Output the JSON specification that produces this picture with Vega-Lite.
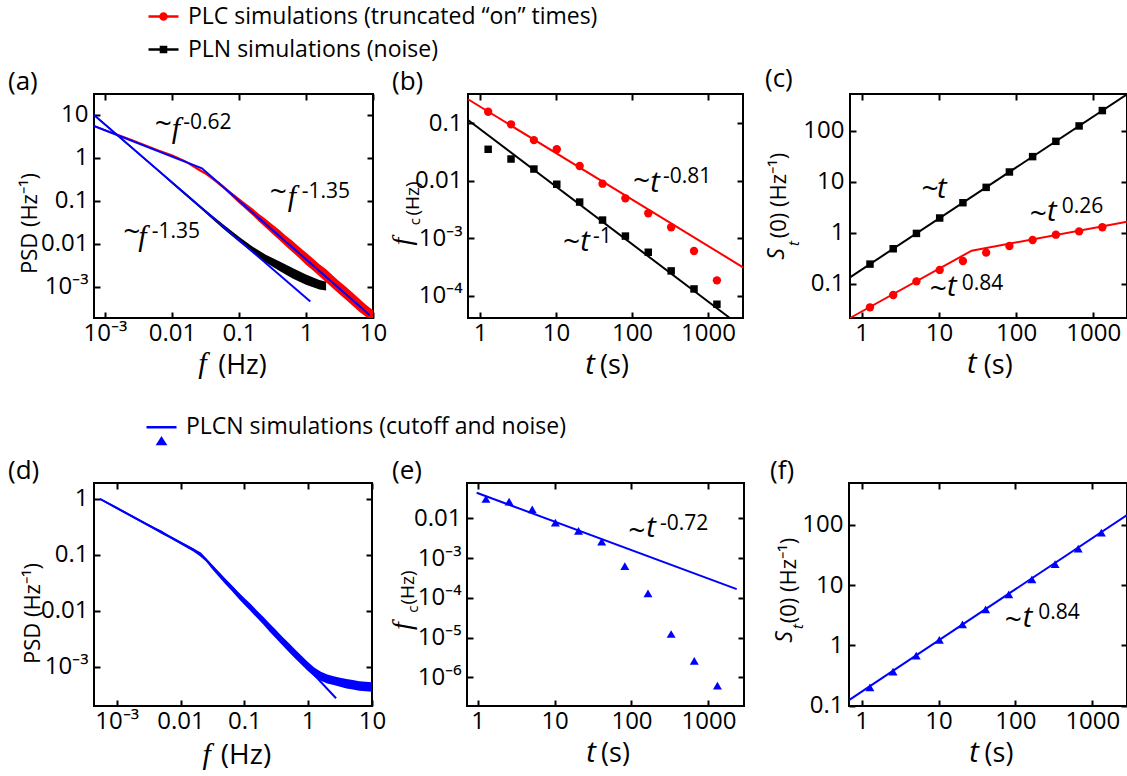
{
"$schema": "https://vega.github.io/schema/vega-lite/v6.json",
"autosize": {"type": "none"},
"padding": {"left": 94, "top": 94, "right": 1033, "bottom": 682},
"background": "white",
"config": {
 "view": {"stroke": "black", "strokeWidth": 2},
 "font": "Open Sans",
 "axis": {"grid": false, "domain": false, "ticks": true, "tickColor": "black", "tickWidth": 2, "tickSize": -6, "labelFont": "Open Sans", "labelFontSize": 24, "labelColor": "black", "labelPadding": 12, "labelOverlap": false, "labelFlush": false, "titleFont": "Open Sans", "titleFontWeight": "normal", "titleColor": "black", "titleAlign": "center", "titleBaseline": "middle"},
 "axisX": {"labelPadding": 9},
 "title": {"font": "Open Sans", "fontSize": 26, "fontWeight": "normal", "anchor": "start", "frame": "group", "color": "black", "offset": -2}
},
"datasets": {
 "leg_top": [{"series": "PLC simulations (truncated “on” times)"}, {"series": "PLN simulations (noise)"}],
 "leg_bot": [{"series": "PLCN simulations (cutoff and noise)"}],
 "a_plc": [
  {"f":0.0006855,"lo":5.31,"hi":5.82},{"f":0.001,"lo":4.27,"hi":4.68},{"f":0.001585,"lo":3.27,"hi":3.59},{"f":0.002512,"lo":2.51,"hi":2.75},{"f":0.003981,"lo":1.905,"hi":2.089},{"f":0.00631,"lo":1.445,"hi":1.585},{"f":0.01,"lo":1.084,"hi":1.216},{"f":0.01585,"lo":0.785,"hi":0.881},{"f":0.02512,"lo":0.501,"hi":0.575},{"f":0.03162,"lo":0.407,"hi":0.468},{"f":0.03981,"lo":0.3126,"hi":0.367},{"f":0.05012,"lo":0.2344,"hi":0.2818},{"f":0.0631,"lo":0.1738,"hi":0.2089},{"f":0.07943,"lo":0.123,"hi":0.1549},{"f":0.1,"lo":0.0891,"hi":0.1175},{"f":0.1259,"lo":0.0646,"hi":0.0891},{"f":0.1585,"lo":0.0468,"hi":0.0676},{"f":0.1995,"lo":0.0331,"hi":0.0501},{"f":0.2512,"lo":0.024,"hi":0.038},{"f":0.3162,"lo":0.017,"hi":0.0282},{"f":0.3981,"lo":0.0123,"hi":0.0214},{"f":0.5012,"lo":0.00891,"hi":0.01549},{"f":0.631,"lo":0.00646,"hi":0.01175},{"f":0.7943,"lo":0.00468,"hi":0.00851},{"f":1,"lo":0.00331,"hi":0.00631},{"f":1.259,"lo":0.00245,"hi":0.00468},{"f":1.585,"lo":0.00178,"hi":0.00339},{"f":1.995,"lo":0.00129,"hi":0.00257},{"f":2.512,"lo":0.000933,"hi":0.001862},{"f":3.162,"lo":0.000676,"hi":0.001349},{"f":3.981,"lo":0.000501,"hi":0.001},{"f":5.012,"lo":0.000363,"hi":0.000724},{"f":6.31,"lo":0.000263,"hi":0.000525},{"f":7.943,"lo":0.0002,"hi":0.00038},{"f":10,"lo":0.000166,"hi":0.000288}],
 "a_pln": [
  {"f":0.0006855,"lo":9.66,"hi":10.35},{"f":0.001,"lo":5.75,"hi":6.31},{"f":0.001585,"lo":3.09,"hi":3.39},{"f":0.002512,"lo":1.66,"hi":1.82},{"f":0.003981,"lo":0.891,"hi":0.977},{"f":0.00631,"lo":0.479,"hi":0.525},{"f":0.01,"lo":0.251,"hi":0.282},{"f":0.01585,"lo":0.1349,"hi":0.1549},{"f":0.02512,"lo":0.0724,"hi":0.0832},{"f":0.03981,"lo":0.038,"hi":0.0457},{"f":0.0631,"lo":0.0204,"hi":0.0257},{"f":0.1,"lo":0.01122,"hi":0.01479},{"f":0.1585,"lo":0.00631,"hi":0.00871},{"f":0.2512,"lo":0.00372,"hi":0.00562},{"f":0.3981,"lo":0.0024,"hi":0.00398},{"f":0.631,"lo":0.00158,"hi":0.00275},{"f":1,"lo":0.00112,"hi":0.00195},{"f":1.585,"lo":0.000871,"hi":0.001445},{"f":1.995,"lo":0.000832,"hi":0.001318}],
 "a_fit": [{"fit":"upper","f":0.0006855,"psd":5.55},{"fit":"upper","f":0.028,"psd":0.575},{"fit":"upper","f":8.9,"psd":0.000224},{"fit":"lower","f":0.0006855,"psd":10},{"fit":"lower","f":1.16,"psd":0.000457}],
 "a_txt": [
  {"part":"tilde","x":0.00741,"y":5.85,"text":"~"},{"part":"fvar","x":0.01148,"y":4.72,"text":"f"},{"part":"exp","x":0.01476,"y":6.41,"text":"-0.62"},
  {"part":"tilde","x":0.3864,"y":0.151,"text":"~"},{"part":"fvar","x":0.618,"y":0.124,"text":"f"},{"part":"exp","x":0.863,"y":0.164,"text":"-1.35"},
  {"part":"tilde","x":0.002506,"y":0.01774,"text":"~"},{"part":"fvar","x":0.003631,"y":0.01456,"text":"f"},{"part":"exp","x":0.004977,"y":0.01932,"text":"-1.35"},
  {"part":"fvar","x":0.0285,"y":0.0000162,"text":"f"}],
 "b_pts": [
  {"series":"PLC","t":1.28,"fc":0.159},{"series":"PLC","t":2.56,"fc":0.096},{"series":"PLC","t":5.12,"fc":0.051},{"series":"PLC","t":10.24,"fc":0.0353},{"series":"PLC","t":20.48,"fc":0.0181},{"series":"PLC","t":40.96,"fc":0.0089},{"series":"PLC","t":81.92,"fc":0.00495},{"series":"PLC","t":163.84,"fc":0.00272},{"series":"PLC","t":327.68,"fc":0.00155},{"series":"PLC","t":655.36,"fc":0.0006},{"series":"PLC","t":1310.72,"fc":0.000185},
  {"series":"PLN","t":1.28,"fc":0.0353},{"series":"PLN","t":2.56,"fc":0.0239},{"series":"PLN","t":5.12,"fc":0.016},{"series":"PLN","t":10.24,"fc":0.0087},{"series":"PLN","t":20.48,"fc":0.00426},{"series":"PLN","t":40.96,"fc":0.00207},{"series":"PLN","t":81.92,"fc":0.00109},{"series":"PLN","t":163.84,"fc":0.00057},{"series":"PLN","t":327.68,"fc":0.00027},{"series":"PLN","t":655.36,"fc":0.000131},{"series":"PLN","t":1310.72,"fc":0.000071}],
 "b_fit": [{"fit":"PLC","t":0.695,"fc":0.262},{"fit":"PLC","t":2890,"fc":0.000312},{"fit":"PLN","t":0.695,"fc":0.114},{"fit":"PLN","t":1940,"fc":0.0000409}],
 "b_txt": [
  {"part":"tilde","x":134.2,"y":0.00964,"text":"~"},{"part":"tvar","x":200.8,"y":0.00914,"text":"t"},{"part":"exp","x":255.8,"y":0.01178,"text":"-0.81"},
  {"part":"tilde","x":16.09,"y":0.000817,"text":"~"},{"part":"tvar","x":24.08,"y":0.000871,"text":"t"},{"part":"exp","x":30.68,"y":0.001064,"text":"-1"},
  {"part":"tvar","x":28.0,"y":0.00000622,"text":"t"},
  {"part":"yvar","x":0.097,"y":0.000871,"text":"f"},{"part":"ysub","x":0.1396,"y":0.00194,"text":"c"}],
 "c_pts": [
  {"series":"PLN","t":1.28,"s":0.242},{"series":"PLN","t":2.56,"s":0.484},{"series":"PLN","t":5.12,"s":0.968},{"series":"PLN","t":10.24,"s":1.94},{"series":"PLN","t":20.48,"s":3.87},{"series":"PLN","t":40.96,"s":7.74},{"series":"PLN","t":81.92,"s":15.5},{"series":"PLN","t":163.84,"s":31.0},{"series":"PLN","t":327.68,"s":61.9},{"series":"PLN","t":655.36,"s":124},{"series":"PLN","t":1310.72,"s":248},
  {"series":"PLC","t":1.28,"s":0.0344},{"series":"PLC","t":2.56,"s":0.06},{"series":"PLC","t":5.12,"s":0.111},{"series":"PLC","t":10.24,"s":0.186},{"series":"PLC","t":20.48,"s":0.279},{"series":"PLC","t":40.96,"s":0.406},{"series":"PLC","t":81.92,"s":0.548},{"series":"PLC","t":163.84,"s":0.719},{"series":"PLC","t":327.68,"s":0.914},{"series":"PLC","t":655.36,"s":1.06},{"series":"PLC","t":1310.72,"s":1.28}],
 "c_fit": [{"fit":"PLN","t":0.7053,"s":0.1334},{"fit":"PLN","t":2735,"s":518},{"fit":"PLC","t":0.7053,"s":0.02123},{"fit":"PLC","t":26.6,"s":0.444},{"fit":"PLC","t":2735,"s":1.64}],
 "c_txt": [
  {"part":"tilde","x":7.67,"y":6.87,"text":"~"},{"part":"tvar","x":10.87,"y":7.19,"text":"t"},
  {"part":"tilde","x":194.0,"y":2.22,"text":"~"},{"part":"tvar","x":289.1,"y":2.55,"text":"t"},{"part":"exp","x":389.7,"y":3.15,"text":"0.26"},
  {"part":"tilde","x":9.82,"y":0.0752,"text":"~"},{"part":"tvar","x":14.65,"y":0.0861,"text":"t"},{"part":"exp","x":19.73,"y":0.0986,"text":"0.84"},
  {"part":"tvar","x":26.6,"y":0.00266,"text":"t"},
  {"part":"yS","x":0.0788,"y":0.382,"text":"S"},{"part":"ysub","x":0.1309,"y":0.614,"text":"t"}],
 "d_psd": [
  {"f":0.000547,"lo":0.966,"hi":1.035},{"f":0.001,"lo":0.661,"hi":0.724},{"f":0.001585,"lo":0.495,"hi":0.543},{"f":0.002512,"lo":0.372,"hi":0.407},{"f":0.003981,"lo":0.2786,"hi":0.309},{"f":0.005012,"lo":0.24,"hi":0.2723},{"f":0.00631,"lo":0.2089,"hi":0.2317},{"f":0.01,"lo":0.1549,"hi":0.1738},{"f":0.01585,"lo":0.1148,"hi":0.1318},{"f":0.01995,"lo":0.0955,"hi":0.1096},{"f":0.02512,"lo":0.0759,"hi":0.0871},{"f":0.03162,"lo":0.055,"hi":0.0646},{"f":0.03981,"lo":0.0407,"hi":0.049},{"f":0.05012,"lo":0.0302,"hi":0.0372},{"f":0.0631,"lo":0.0229,"hi":0.0288},{"f":0.07943,"lo":0.017,"hi":0.0219},{"f":0.1,"lo":0.01288,"hi":0.017},{"f":0.1259,"lo":0.00977,"hi":0.01318},{"f":0.1585,"lo":0.00741,"hi":0.01},{"f":0.1995,"lo":0.00562,"hi":0.00776},{"f":0.2512,"lo":0.00417,"hi":0.00589},{"f":0.3162,"lo":0.00316,"hi":0.00447},{"f":0.3981,"lo":0.0024,"hi":0.00339},{"f":0.5012,"lo":0.00182,"hi":0.00263},{"f":0.631,"lo":0.00138,"hi":0.002},{"f":0.7943,"lo":0.00107,"hi":0.00155},{"f":1,"lo":0.000832,"hi":0.001202},{"f":1.259,"lo":0.000661,"hi":0.000955},{"f":1.585,"lo":0.000562,"hi":0.000813},{"f":1.995,"lo":0.000501,"hi":0.000724},{"f":2.512,"lo":0.000468,"hi":0.000676},{"f":3.162,"lo":0.000437,"hi":0.000631},{"f":3.981,"lo":0.000407,"hi":0.000603},{"f":5.012,"lo":0.000389,"hi":0.000575},{"f":6.31,"lo":0.000372,"hi":0.00055},{"f":7.943,"lo":0.000363,"hi":0.000537},{"f":10,"lo":0.000355,"hi":0.000525}],
 "d_fit": [{"f":0.000547,"psd":1.0},{"f":0.02037,"psd":0.1069},{"f":2.735,"psd":0.000272}],
 "d_txt": [{"part":"fvar","x":0.02576,"y":0.0000263,"text":"f"}],
 "e_pts": [{"t":1.28,"fc":0.0306},{"t":2.56,"fc":0.0262},{"t":5.12,"fc":0.0168},{"t":10.24,"fc":0.00776},{"t":20.48,"fc":0.0048},{"t":40.96,"fc":0.00258},{"t":81.92,"fc":0.00063},{"t":163.84,"fc":0.00013},{"t":327.68,"fc":0.0000123},{"t":655.36,"fc":0.0000026},{"t":1310.72,"fc":0.00000062}],
 "e_fit": [{"t":0.97,"fc":0.044},{"t":2333,"fc":0.000166}],
 "e_txt": [
  {"part":"tilde","x":116.9,"y":0.0046,"text":"~"},{"part":"tvar","x":179.4,"y":0.0056,"text":"t"},{"part":"exp","x":234.8,"y":0.00719,"text":"-0.72"},
  {"part":"tvar","x":29.7,"y":0.0000000125,"text":"t"},
  {"part":"yvar","x":0.1069,"y":0.0000195,"text":"f"},{"part":"ysub","x":0.1441,"y":0.0000522,"text":"c"}],
 "f_pts": [{"t":1.28,"s":0.202},{"t":2.56,"s":0.367},{"t":5.12,"s":0.676},{"t":10.24,"s":1.24},{"t":20.48,"s":2.24},{"t":40.96,"s":3.98},{"t":81.92,"s":7.06},{"t":163.84,"s":12.5},{"t":327.68,"s":22.5},{"t":655.36,"s":40.4},{"t":1310.72,"s":74.5}],
 "f_fit": [{"t":0.684,"s":0.124},{"t":2825,"s":146.6}],
 "f_txt": [
  {"part":"tilde","x":93.8,"y":2.58,"text":"~"},{"part":"tvar","x":143.1,"y":2.82,"text":"t"},{"part":"exp","x":198.3,"y":3.42,"text":"0.84"},
  {"part":"tvar","x":28.9,"y":0.01637,"text":"t"},
  {"part":"yS","x":0.102,"y":1.38,"text":"S"},{"part":"ysub","x":0.1507,"y":2.07,"text":"t"}]
},
"resolve": {"scale": {"fill": "independent", "stroke": "independent", "shape": "independent"}},
"bounds": "flush",
"spacing": 389,
"vconcat": [
 {"bounds": "flush", "spacing": 95, "hconcat": [
  {"width": 279, "height": 224, "title": {"text": "(a)", "dx": -86},
   "resolve": {"scale": {"x": "independent", "y": "independent"}},
   "layer": [
    {"layer": [
     {"data": {"name": "a_plc"}, "mark": {"type": "area", "color": "#ff0000", "clip": true},
      "encoding": {"x": {"field": "f", "type": "quantitative", "scale": {"type": "log", "domain": [0.0006855, 10], "nice": false}, "axis": {"values": [0.001, 0.01, 0.1, 1, 10], "labelExpr": "datum.value < 0.005 ? '10⁻³' : format(datum.value, '~g')", "title": "(Hz)", "titleFontSize": 27, "titleX": 148, "titleY": 47, "titleAngle": 0}},
       "y": {"field": "lo", "type": "quantitative", "scale": {"type": "log", "domain": [0.00019, 30.76], "nice": false}, "axis": {"values": [0.001, 0.01, 0.1, 1, 10], "labelExpr": "datum.value < 0.005 ? '10⁻³' : format(datum.value, '~g')", "title": "PSD (Hz⁻¹)", "titleFontSize": 22, "titleX": -65, "titleY": 129, "titleAngle": 270}},
       "y2": {"field": "hi"}}},
     {"data": {"name": "a_pln"}, "mark": {"type": "area", "color": "#000000", "clip": true},
      "encoding": {"x": {"field": "f", "type": "quantitative"}, "y": {"field": "lo", "type": "quantitative"}, "y2": {"field": "hi"}}},
     {"data": {"name": "a_fit"}, "mark": {"type": "line", "color": "#0000ff", "strokeWidth": 2},
      "encoding": {"x": {"field": "f", "type": "quantitative"}, "y": {"field": "psd", "type": "quantitative"}, "detail": {"field": "fit"}}},
     {"data": {"name": "a_txt"}, "transform": [{"filter": "datum.part == 'tilde'"}], "mark": {"type": "text", "font": "Open Sans", "fontSize": 30, "align": "center", "baseline": "middle", "color": "black"}, "encoding": {"x": {"field": "x", "type": "quantitative"}, "y": {"field": "y", "type": "quantitative"}, "text": {"field": "text"}}},
     {"data": {"name": "a_txt"}, "transform": [{"filter": "datum.part == 'fvar'"}], "mark": {"type": "text", "font": "Liberation Serif", "fontStyle": "italic", "fontSize": 30, "align": "center", "baseline": "middle", "color": "black"}, "encoding": {"x": {"field": "x", "type": "quantitative"}, "y": {"field": "y", "type": "quantitative"}, "text": {"field": "text"}}},
     {"data": {"name": "a_txt"}, "transform": [{"filter": "datum.part == 'exp'"}], "mark": {"type": "text", "font": "Open Sans", "fontSize": 21, "align": "left", "baseline": "middle", "color": "black"}, "encoding": {"x": {"field": "x", "type": "quantitative"}, "y": {"field": "y", "type": "quantitative"}, "text": {"field": "text"}}},
     {"data": {"name": "leg_top"}, "mark": {"type": "point", "opacity": 0, "strokeWidth": 2.5},
      "encoding": {"x": {"datum": 0.01, "type": "quantitative"}, "y": {"datum": 1, "type": "quantitative"},
       "fill": {"field": "series", "type": "nominal", "scale": {"domain": ["PLC simulations (truncated “on” times)", "PLN simulations (noise)"], "range": ["#ff0000", "#000000"]}, "legend": {"title": null, "orient": "none", "direction": "vertical", "legendX": 53, "legendY": -94, "symbolSize": 900, "symbolStrokeWidth": 2.5, "symbolOpacity": 1, "labelFont": "Open Sans", "labelFontSize": 23, "labelColor": "black", "labelOffset": 8, "rowPadding": 4, "labelLimit": 800, "padding": 0}},
       "stroke": {"field": "series", "type": "nominal", "scale": {"domain": ["PLC simulations (truncated “on” times)", "PLN simulations (noise)"], "range": ["#ff0000", "#000000"]}, "legend": {"title": null, "orient": "none", "direction": "vertical", "legendX": 53, "legendY": -94, "symbolSize": 900, "symbolStrokeWidth": 2.5, "symbolOpacity": 1, "labelFont": "Open Sans", "labelFontSize": 23, "labelColor": "black", "labelOffset": 8, "rowPadding": 4, "labelLimit": 800, "padding": 0}},
       "shape": {"field": "series", "type": "nominal", "scale": {"domain": ["PLC simulations (truncated “on” times)", "PLN simulations (noise)"], "range": ["M-1,0H1M0.2,0A0.2,0.2,0,1,1,-0.2,0A0.2,0.2,0,1,1,0.2,0Z", "M-1,0H1M-0.17,-0.17H0.17V0.17H-0.17Z"]}, "legend": {"title": null, "orient": "none", "direction": "vertical", "legendX": 53, "legendY": -94, "symbolSize": 900, "symbolStrokeWidth": 2.5, "symbolOpacity": 1, "labelFont": "Open Sans", "labelFontSize": 23, "labelColor": "black", "labelOffset": 8, "rowPadding": 4, "labelLimit": 800, "padding": 0}}}}
    ]},
    {"data": {"values": [{"k": 1}]}, "mark": {"type": "point", "opacity": 0},
     "encoding": {"x": {"datum": 0.01, "type": "quantitative", "scale": {"type": "log", "domain": [0.0006855, 10], "nice": false}, "axis": {"orient": "top", "values": [0.001, 0.01, 0.1, 1, 10], "labels": false, "title": null}},
      "y": {"datum": 1, "type": "quantitative", "scale": {"type": "log", "domain": [0.00019, 30.76], "nice": false}, "axis": {"orient": "right", "values": [0.001, 0.01, 0.1, 1, 10], "labels": false, "title": null}}}}
   ]},
  {"bounds": "flush", "spacing": 107, "hconcat": [
   {"width": 275, "height": 224, "title": {"text": "(b)", "dx": -76},
    "resolve": {"scale": {"x": "independent", "y": "independent"}},
    "layer": [
     {"layer": [
      {"data": {"name": "b_fit"}, "transform": [{"filter": "datum.fit == 'PLC'"}], "mark": {"type": "line", "color": "#ff0000", "strokeWidth": 2},
       "encoding": {"x": {"field": "t", "type": "quantitative", "scale": {"type": "log", "domain": [0.695, 2890], "nice": false}, "axis": {"values": [1, 10, 100, 1000], "labelExpr": "format(datum.value, '~g')", "title": "(s)", "titleFontSize": 27, "titleX": 146, "titleY": 47, "titleAngle": 0}},
        "y": {"field": "fc", "type": "quantitative", "scale": {"type": "log", "domain": [0.0000409, 0.3236], "nice": false}, "axis": {"values": [0.0001, 0.001, 0.01, 0.1], "labelExpr": "datum.value < 0.0005 ? '10⁻⁴' : datum.value < 0.005 ? '10⁻³' : format(datum.value, '~g')", "title": "(Hz)", "titleFontSize": 19, "titleX": -56, "titleY": 104, "titleAngle": 270}}}},
      {"data": {"name": "b_fit"}, "transform": [{"filter": "datum.fit == 'PLN'"}], "mark": {"type": "line", "color": "#000000", "strokeWidth": 2},
       "encoding": {"x": {"field": "t", "type": "quantitative"}, "y": {"field": "fc", "type": "quantitative"}}},
      {"data": {"name": "b_pts"}, "transform": [{"filter": "datum.series == 'PLC'"}], "mark": {"type": "point", "filled": true, "shape": "circle", "size": 70, "color": "#ff0000", "opacity": 1},
       "encoding": {"x": {"field": "t", "type": "quantitative"}, "y": {"field": "fc", "type": "quantitative"}}},
      {"data": {"name": "b_pts"}, "transform": [{"filter": "datum.series == 'PLN'"}], "mark": {"type": "point", "filled": true, "shape": "square", "size": 56, "color": "#000000", "opacity": 1},
       "encoding": {"x": {"field": "t", "type": "quantitative"}, "y": {"field": "fc", "type": "quantitative"}}},
      {"data": {"name": "b_txt"}, "transform": [{"filter": "datum.part == 'tilde'"}], "mark": {"type": "text", "font": "Open Sans", "fontSize": 30, "align": "center", "baseline": "middle", "color": "black"}, "encoding": {"x": {"field": "x", "type": "quantitative"}, "y": {"field": "y", "type": "quantitative"}, "text": {"field": "text"}}},
      {"data": {"name": "b_txt"}, "transform": [{"filter": "datum.part == 'tvar'"}], "mark": {"type": "text", "font": "Open Sans", "fontStyle": "italic", "fontSize": 29, "align": "center", "baseline": "middle", "color": "black"}, "encoding": {"x": {"field": "x", "type": "quantitative"}, "y": {"field": "y", "type": "quantitative"}, "text": {"field": "text"}}},
      {"data": {"name": "b_txt"}, "transform": [{"filter": "datum.part == 'exp'"}], "mark": {"type": "text", "font": "Open Sans", "fontSize": 21, "align": "left", "baseline": "middle", "color": "black"}, "encoding": {"x": {"field": "x", "type": "quantitative"}, "y": {"field": "y", "type": "quantitative"}, "text": {"field": "text"}}},
      {"data": {"name": "b_txt"}, "transform": [{"filter": "datum.part == 'yvar'"}], "mark": {"type": "text", "font": "Liberation Serif", "fontStyle": "italic", "fontSize": 28, "angle": 270, "align": "center", "baseline": "middle", "color": "black"}, "encoding": {"x": {"field": "x", "type": "quantitative"}, "y": {"field": "y", "type": "quantitative"}, "text": {"field": "text"}}},
      {"data": {"name": "b_txt"}, "transform": [{"filter": "datum.part == 'ysub'"}], "mark": {"type": "text", "font": "Open Sans", "fontSize": 15, "angle": 270, "align": "center", "baseline": "middle", "color": "black"}, "encoding": {"x": {"field": "x", "type": "quantitative"}, "y": {"field": "y", "type": "quantitative"}, "text": {"field": "text"}}}
     ]},
     {"data": {"values": [{"k": 1}]}, "mark": {"type": "point", "opacity": 0},
      "encoding": {"x": {"datum": 10, "type": "quantitative", "scale": {"type": "log", "domain": [0.695, 2890], "nice": false}, "axis": {"orient": "top", "values": [1, 10, 100, 1000], "labels": false, "title": null}},
       "y": {"datum": 0.01, "type": "quantitative", "scale": {"type": "log", "domain": [0.0000409, 0.3236], "nice": false}, "axis": {"orient": "right", "values": [0.0001, 0.001, 0.01, 0.1], "labels": false, "title": null}}}}
    ]},
   {"width": 277, "height": 224, "title": {"text": "(c)", "dx": -85},
    "resolve": {"scale": {"x": "independent", "y": "independent"}},
    "layer": [
     {"layer": [
      {"data": {"name": "c_fit"}, "transform": [{"filter": "datum.fit == 'PLN'"}], "mark": {"type": "line", "color": "#000000", "strokeWidth": 2},
       "encoding": {"x": {"field": "t", "type": "quantitative", "scale": {"type": "log", "domain": [0.7053, 2735], "nice": false}, "axis": {"values": [1, 10, 100, 1000], "labelExpr": "format(datum.value, '~g')", "title": "(s)", "titleFontSize": 27, "titleX": 147.7, "titleY": 47, "titleAngle": 0}},
        "y": {"field": "s", "type": "quantitative", "scale": {"type": "log", "domain": [0.02123, 524.4], "nice": false}, "axis": {"values": [0.1, 1, 10, 100], "labelExpr": "format(datum.value, '~g')", "title": "(0) (Hz⁻¹)", "titleFontSize": 22, "titleX": -71.5, "titleY": 101, "titleAngle": 270}}}},
      {"data": {"name": "c_fit"}, "transform": [{"filter": "datum.fit == 'PLC'"}], "mark": {"type": "line", "color": "#ff0000", "strokeWidth": 2},
       "encoding": {"x": {"field": "t", "type": "quantitative"}, "y": {"field": "s", "type": "quantitative"}}},
      {"data": {"name": "c_pts"}, "transform": [{"filter": "datum.series == 'PLN'"}], "mark": {"type": "point", "filled": true, "shape": "square", "size": 56, "color": "#000000", "opacity": 1},
       "encoding": {"x": {"field": "t", "type": "quantitative"}, "y": {"field": "s", "type": "quantitative"}}},
      {"data": {"name": "c_pts"}, "transform": [{"filter": "datum.series == 'PLC'"}], "mark": {"type": "point", "filled": true, "shape": "circle", "size": 70, "color": "#ff0000", "opacity": 1},
       "encoding": {"x": {"field": "t", "type": "quantitative"}, "y": {"field": "s", "type": "quantitative"}}},
      {"data": {"name": "c_txt"}, "transform": [{"filter": "datum.part == 'tilde'"}], "mark": {"type": "text", "font": "Open Sans", "fontSize": 30, "align": "center", "baseline": "middle", "color": "black"}, "encoding": {"x": {"field": "x", "type": "quantitative"}, "y": {"field": "y", "type": "quantitative"}, "text": {"field": "text"}}},
      {"data": {"name": "c_txt"}, "transform": [{"filter": "datum.part == 'tvar'"}], "mark": {"type": "text", "font": "Open Sans", "fontStyle": "italic", "fontSize": 29, "align": "center", "baseline": "middle", "color": "black"}, "encoding": {"x": {"field": "x", "type": "quantitative"}, "y": {"field": "y", "type": "quantitative"}, "text": {"field": "text"}}},
      {"data": {"name": "c_txt"}, "transform": [{"filter": "datum.part == 'exp'"}], "mark": {"type": "text", "font": "Open Sans", "fontSize": 21, "align": "left", "baseline": "middle", "color": "black"}, "encoding": {"x": {"field": "x", "type": "quantitative"}, "y": {"field": "y", "type": "quantitative"}, "text": {"field": "text"}}},
      {"data": {"name": "c_txt"}, "transform": [{"filter": "datum.part == 'yS'"}], "mark": {"type": "text", "font": "Open Sans", "fontStyle": "italic", "fontSize": 23, "angle": 270, "align": "center", "baseline": "middle", "color": "black"}, "encoding": {"x": {"field": "x", "type": "quantitative"}, "y": {"field": "y", "type": "quantitative"}, "text": {"field": "text"}}},
      {"data": {"name": "c_txt"}, "transform": [{"filter": "datum.part == 'ysub'"}], "mark": {"type": "text", "font": "Open Sans", "fontStyle": "italic", "fontSize": 15, "angle": 270, "align": "center", "baseline": "middle", "color": "black"}, "encoding": {"x": {"field": "x", "type": "quantitative"}, "y": {"field": "y", "type": "quantitative"}, "text": {"field": "text"}}}
     ]},
     {"data": {"values": [{"k": 1}]}, "mark": {"type": "point", "opacity": 0},
      "encoding": {"x": {"datum": 10, "type": "quantitative", "scale": {"type": "log", "domain": [0.7053, 2735], "nice": false}, "axis": {"orient": "top", "values": [1, 10, 100, 1000], "labels": false, "title": null}},
       "y": {"datum": 1, "type": "quantitative", "scale": {"type": "log", "domain": [0.02123, 524.4], "nice": false}, "axis": {"orient": "right", "values": [0.1, 1, 10, 100], "labels": false, "title": null}}}}
    ]}
  ]}
 ]},
 {"bounds": "flush", "spacing": 95, "hconcat": [
  {"width": 278, "height": 223, "title": {"text": "(d)", "dx": -86},
   "resolve": {"scale": {"x": "independent", "y": "independent"}},
   "layer": [
    {"layer": [
     {"data": {"name": "d_psd"}, "mark": {"type": "area", "color": "#0000ff", "clip": true},
      "encoding": {"x": {"field": "f", "type": "quantitative", "scale": {"type": "log", "domain": [0.0004406, 10], "nice": false}, "axis": {"values": [0.001, 0.01, 0.1, 1, 10], "labelExpr": "datum.value < 0.005 ? '10⁻³' : format(datum.value, '~g')", "title": "(Hz)", "titleFontSize": 28, "titleX": 151.5, "titleY": 49, "titleAngle": 0}},
       "y": {"field": "lo", "type": "quantitative", "scale": {"type": "log", "domain": [0.000198, 1.932], "nice": false}, "axis": {"values": [0.001, 0.01, 0.1, 1], "labelExpr": "datum.value < 0.005 ? '10⁻³' : format(datum.value, '~g')", "title": "PSD (Hz⁻¹)", "titleFontSize": 22, "titleX": -62, "titleY": 130, "titleAngle": 270}},
       "y2": {"field": "hi"}}},
     {"data": {"name": "d_fit"}, "mark": {"type": "line", "color": "#0000ff", "strokeWidth": 2},
      "encoding": {"x": {"field": "f", "type": "quantitative"}, "y": {"field": "psd", "type": "quantitative"}}},
     {"data": {"name": "d_txt"}, "transform": [{"filter": "datum.part == 'fvar'"}], "mark": {"type": "text", "font": "Liberation Serif", "fontStyle": "italic", "fontSize": 30, "align": "center", "baseline": "middle", "color": "black"}, "encoding": {"x": {"field": "x", "type": "quantitative"}, "y": {"field": "y", "type": "quantitative"}, "text": {"field": "text"}}},
     {"data": {"name": "leg_bot"}, "mark": {"type": "point", "opacity": 0, "strokeWidth": 2.5},
      "encoding": {"x": {"datum": 0.01, "type": "quantitative"}, "y": {"datum": 0.01, "type": "quantitative"},
       "fill": {"field": "series", "type": "nominal", "scale": {"domain": ["PLCN simulations (cutoff and noise)"], "range": ["#0000ff"]}, "legend": {"title": null, "orient": "none", "direction": "vertical", "legendX": 51, "legendY": -72.3, "symbolSize": 900, "symbolStrokeWidth": 2.5, "symbolOpacity": 1, "labelFont": "Open Sans", "labelFontSize": 23, "labelColor": "black", "labelOffset": 8, "labelLimit": 800, "padding": 0}},
       "stroke": {"field": "series", "type": "nominal", "scale": {"domain": ["PLCN simulations (cutoff and noise)"], "range": ["#0000ff"]}, "legend": {"title": null, "orient": "none", "direction": "vertical", "legendX": 51, "legendY": -72.3, "symbolSize": 900, "symbolStrokeWidth": 2.5, "symbolOpacity": 1, "labelFont": "Open Sans", "labelFontSize": 23, "labelColor": "black", "labelOffset": 8, "labelLimit": 800, "padding": 0}},
       "shape": {"field": "series", "type": "nominal", "scale": {"domain": ["PLCN simulations (cutoff and noise)"], "range": ["M-1,0H1M0,0.74L0.24,1.12L-0.24,1.12Z"]}, "legend": {"title": null, "orient": "none", "direction": "vertical", "legendX": 51, "legendY": -72.3, "symbolSize": 900, "symbolStrokeWidth": 2.5, "symbolOpacity": 1, "labelFont": "Open Sans", "labelFontSize": 23, "labelColor": "black", "labelOffset": 8, "labelLimit": 800, "padding": 0}}}}
    ]},
    {"data": {"values": [{"k": 1}]}, "mark": {"type": "point", "opacity": 0},
     "encoding": {"x": {"datum": 0.01, "type": "quantitative", "scale": {"type": "log", "domain": [0.0004406, 10], "nice": false}, "axis": {"orient": "top", "values": [0.001, 0.01, 0.1, 1, 10], "labels": false, "title": null}},
      "y": {"datum": 0.01, "type": "quantitative", "scale": {"type": "log", "domain": [0.000198, 1.932], "nice": false}, "axis": {"orient": "right", "values": [0.001, 0.01, 0.1, 1], "labels": false, "title": null}}}}
   ]},
  {"bounds": "flush", "spacing": 105, "hconcat": [
   {"width": 277, "height": 223, "title": {"text": "(e)", "dx": -75},
    "resolve": {"scale": {"x": "independent", "y": "independent"}},
    "layer": [
     {"layer": [
      {"data": {"name": "e_fit"}, "mark": {"type": "line", "color": "#0000ff", "strokeWidth": 2},
       "encoding": {"x": {"field": "t", "type": "quantitative", "scale": {"type": "log", "domain": [0.726, 2904], "nice": false}, "axis": {"values": [1, 10, 100, 1000], "labelExpr": "format(datum.value, '~g')", "title": "(s)", "titleFontSize": 27, "titleX": 148, "titleY": 47, "titleAngle": 0}},
        "y": {"field": "fc", "type": "quantitative", "scale": {"type": "log", "domain": [0.00000019, 0.0773], "nice": false}, "axis": {"values": [0.000001, 0.00001, 0.0001, 0.001, 0.01], "labelExpr": "datum.value < 0.000005 ? '10⁻⁶' : datum.value < 0.00005 ? '10⁻⁵' : datum.value < 0.0005 ? '10⁻⁴' : datum.value < 0.005 ? '10⁻³' : '0.01'", "title": "(Hz)", "titleFontSize": 19, "titleX": -60, "titleY": 104, "titleAngle": 270}}}},
      {"data": {"name": "e_pts"}, "mark": {"type": "point", "filled": true, "shape": "triangle-up", "size": 80, "color": "#0000ff", "opacity": 1},
       "encoding": {"x": {"field": "t", "type": "quantitative"}, "y": {"field": "fc", "type": "quantitative"}}},
      {"data": {"name": "e_txt"}, "transform": [{"filter": "datum.part == 'tilde'"}], "mark": {"type": "text", "font": "Open Sans", "fontSize": 30, "align": "center", "baseline": "middle", "color": "black"}, "encoding": {"x": {"field": "x", "type": "quantitative"}, "y": {"field": "y", "type": "quantitative"}, "text": {"field": "text"}}},
      {"data": {"name": "e_txt"}, "transform": [{"filter": "datum.part == 'tvar'"}], "mark": {"type": "text", "font": "Open Sans", "fontStyle": "italic", "fontSize": 29, "align": "center", "baseline": "middle", "color": "black"}, "encoding": {"x": {"field": "x", "type": "quantitative"}, "y": {"field": "y", "type": "quantitative"}, "text": {"field": "text"}}},
      {"data": {"name": "e_txt"}, "transform": [{"filter": "datum.part == 'exp'"}], "mark": {"type": "text", "font": "Open Sans", "fontSize": 21, "align": "left", "baseline": "middle", "color": "black"}, "encoding": {"x": {"field": "x", "type": "quantitative"}, "y": {"field": "y", "type": "quantitative"}, "text": {"field": "text"}}},
      {"data": {"name": "e_txt"}, "transform": [{"filter": "datum.part == 'yvar'"}], "mark": {"type": "text", "font": "Liberation Serif", "fontStyle": "italic", "fontSize": 28, "angle": 270, "align": "center", "baseline": "middle", "color": "black"}, "encoding": {"x": {"field": "x", "type": "quantitative"}, "y": {"field": "y", "type": "quantitative"}, "text": {"field": "text"}}},
      {"data": {"name": "e_txt"}, "transform": [{"filter": "datum.part == 'ysub'"}], "mark": {"type": "text", "font": "Open Sans", "fontSize": 15, "angle": 270, "align": "center", "baseline": "middle", "color": "black"}, "encoding": {"x": {"field": "x", "type": "quantitative"}, "y": {"field": "y", "type": "quantitative"}, "text": {"field": "text"}}}
     ]},
     {"data": {"values": [{"k": 1}]}, "mark": {"type": "point", "opacity": 0},
      "encoding": {"x": {"datum": 10, "type": "quantitative", "scale": {"type": "log", "domain": [0.726, 2904], "nice": false}, "axis": {"orient": "top", "values": [1, 10, 100, 1000], "labels": false, "title": null}},
       "y": {"datum": 0.001, "type": "quantitative", "scale": {"type": "log", "domain": [0.00000019, 0.0773], "nice": false}, "axis": {"orient": "right", "values": [0.000001, 0.00001, 0.0001, 0.001, 0.01], "labels": false, "title": null}}}}
    ]},
   {"width": 278, "height": 223, "title": {"text": "(f)", "dx": -79},
    "resolve": {"scale": {"x": "independent", "y": "independent"}},
    "layer": [
     {"layer": [
      {"data": {"name": "f_fit"}, "mark": {"type": "line", "color": "#0000ff", "strokeWidth": 2},
       "encoding": {"x": {"field": "t", "type": "quantitative", "scale": {"type": "log", "domain": [0.684, 2825], "nice": false}, "axis": {"values": [1, 10, 100, 1000], "labelExpr": "format(datum.value, '~g')", "title": "(s)", "titleFontSize": 27, "titleX": 149.5, "titleY": 47, "titleAngle": 0}},
        "y": {"field": "s", "type": "quantitative", "scale": {"type": "log", "domain": [0.0989, 498], "nice": false}, "axis": {"values": [0.1, 1, 10, 100], "labelExpr": "format(datum.value, '~g')", "title": "(0) (Hz⁻¹)", "titleFontSize": 22, "titleX": -61, "titleY": 97, "titleAngle": 270}}}},
      {"data": {"name": "f_pts"}, "mark": {"type": "point", "filled": true, "shape": "triangle-up", "size": 80, "color": "#0000ff", "opacity": 1},
       "encoding": {"x": {"field": "t", "type": "quantitative"}, "y": {"field": "s", "type": "quantitative"}}},
      {"data": {"name": "f_txt"}, "transform": [{"filter": "datum.part == 'tilde'"}], "mark": {"type": "text", "font": "Open Sans", "fontSize": 30, "align": "center", "baseline": "middle", "color": "black"}, "encoding": {"x": {"field": "x", "type": "quantitative"}, "y": {"field": "y", "type": "quantitative"}, "text": {"field": "text"}}},
      {"data": {"name": "f_txt"}, "transform": [{"filter": "datum.part == 'tvar'"}], "mark": {"type": "text", "font": "Open Sans", "fontStyle": "italic", "fontSize": 29, "align": "center", "baseline": "middle", "color": "black"}, "encoding": {"x": {"field": "x", "type": "quantitative"}, "y": {"field": "y", "type": "quantitative"}, "text": {"field": "text"}}},
      {"data": {"name": "f_txt"}, "transform": [{"filter": "datum.part == 'exp'"}], "mark": {"type": "text", "font": "Open Sans", "fontSize": 21, "align": "left", "baseline": "middle", "color": "black"}, "encoding": {"x": {"field": "x", "type": "quantitative"}, "y": {"field": "y", "type": "quantitative"}, "text": {"field": "text"}}},
      {"data": {"name": "f_txt"}, "transform": [{"filter": "datum.part == 'yS'"}], "mark": {"type": "text", "font": "Open Sans", "fontStyle": "italic", "fontSize": 23, "angle": 270, "align": "center", "baseline": "middle", "color": "black"}, "encoding": {"x": {"field": "x", "type": "quantitative"}, "y": {"field": "y", "type": "quantitative"}, "text": {"field": "text"}}},
      {"data": {"name": "f_txt"}, "transform": [{"filter": "datum.part == 'ysub'"}], "mark": {"type": "text", "font": "Open Sans", "fontStyle": "italic", "fontSize": 15, "angle": 270, "align": "center", "baseline": "middle", "color": "black"}, "encoding": {"x": {"field": "x", "type": "quantitative"}, "y": {"field": "y", "type": "quantitative"}, "text": {"field": "text"}}}
     ]},
     {"data": {"values": [{"k": 1}]}, "mark": {"type": "point", "opacity": 0},
      "encoding": {"x": {"datum": 10, "type": "quantitative", "scale": {"type": "log", "domain": [0.684, 2825], "nice": false}, "axis": {"orient": "top", "values": [1, 10, 100, 1000], "labels": false, "title": null}},
       "y": {"datum": 1, "type": "quantitative", "scale": {"type": "log", "domain": [0.0989, 498], "nice": false}, "axis": {"orient": "right", "values": [0.1, 1, 10, 100], "labels": false, "title": null}}}}
    ]}
  ]}
 ]}
]
}
